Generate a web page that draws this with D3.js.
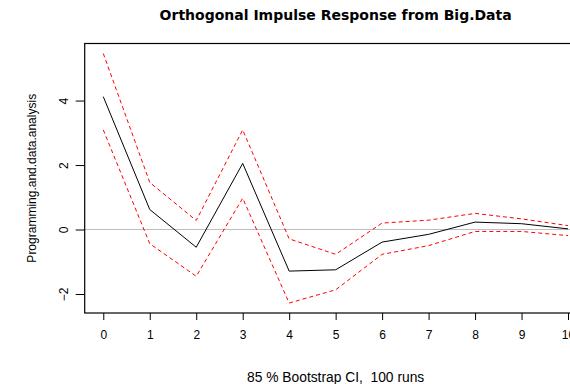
<!DOCTYPE html>
<html>
<head>
<meta charset="utf-8">
<script src="https://cdn.jsdelivr.net/npm/d3@7"></script>
<style>
  body { margin: 0; background: #fff; }
  svg { display: block; font-family: "Liberation Sans", Arial, sans-serif; }
</style>
</head>
<body>
<div id="container"></div>
<script>
/* DATA */
const horizon = [0, 1, 2, 3, 4, 5, 6, 7, 8, 9, 10];
const response = [4.12, 0.62, -0.55, 2.05, -1.29, -1.25, -0.39, -0.15, 0.23, 0.18, 0.02];
const upperCI = [5.46, 1.46, 0.28, 3.09, -0.29, -0.77, 0.2, 0.29, 0.5, 0.33, 0.12];
const lowerCI = [3.09, -0.44, -1.45, 0.97, -2.28, -1.87, -0.77, -0.5, -0.06, -0.06, -0.19];
const yTicks = [-2, 0, 2, 4];

const width = 570, height = 384;
// plot region (R style box, right edge runs off the page)
const plot = { left: 84.7, right: 586.6, top: 43.5, bottom: 313 };

const svg = d3.select("#container")
  .append("svg")
  .attr("width", width)
  .attr("height", height);

// R-like 4% extension of the data range
const allVals = response.concat(upperCI, lowerCI);
const [lo, hi] = d3.extent(allVals);
const pad = (hi - lo) * 0.04;

const xScale = d3.scaleLinear()
  .domain([-0.4, 10.4])
  .range([plot.left, plot.right]);

const yScale = d3.scaleLinear()
  .domain([lo - pad, hi + pad])
  .range([plot.bottom, plot.top]);

// zero line
svg.append("line")
  .attr("x1", plot.left).attr("x2", plot.right)
  .attr("y1", yScale(0)).attr("y2", yScale(0))
  .attr("stroke", "#bebebe")
  .attr("stroke-width", 1);

const line = d3.line()
  .x((d, i) => xScale(horizon[i]))
  .y(d => yScale(d));

// confidence bands
[upperCI, lowerCI].forEach(s => {
  svg.append("path")
    .datum(s)
    .attr("d", line)
    .attr("fill", "none")
    .attr("stroke", "#ff0000")
    .attr("stroke-width", 1)
    .attr("stroke-dasharray", "4,3");
});

// response
svg.append("path")
  .datum(response)
  .attr("d", line)
  .attr("fill", "none")
  .attr("stroke", "#000")
  .attr("stroke-width", 1);

// box
svg.append("rect")
  .attr("x", plot.left).attr("y", plot.top)
  .attr("width", plot.right - plot.left)
  .attr("height", plot.bottom - plot.top)
  .attr("fill", "none")
  .attr("stroke", "#000")
  .attr("stroke-width", 1.2);

// AXES ----------------------------------------------
const xAxis = svg.append("g")
  .attr("transform", `translate(0,${plot.bottom})`)
  .call(d3.axisBottom(xScale).tickValues(horizon).tickSize(7).tickPadding(10).tickSizeOuter(0));
xAxis.select(".domain").remove();
xAxis.selectAll("text").style("font-size", "12px").attr("fill", "#000");

const yAxis = svg.append("g")
  .attr("transform", `translate(${plot.left},0)`)
  .call(d3.axisLeft(yScale).tickValues(yTicks).tickSize(9).tickSizeOuter(0).tickFormat(d3.format("d")));
yAxis.select(".domain").remove();
yAxis.selectAll("text")
  .style("font-size", "12px")
  .attr("fill", "#000")
  .attr("text-anchor", "middle")
  .attr("dy", null)
  .attr("x", null)
  .attr("transform", "translate(-21,0) rotate(-90)")
  .attr("dominant-baseline", "central");

// TITLES ----------------------------------------------
svg.append("text")
  .attr("x", (plot.left + plot.right) / 2)
  .attr("y", 20)
  .attr("text-anchor", "middle")
  .style("font-family", "'DejaVu Sans', Verdana, sans-serif")
  .style("font-weight", "bold")
  .style("font-size", "14px")
  .text("Orthogonal Impulse Response from Big.Data");

svg.append("text")
  .attr("x", (plot.left + plot.right) / 2)
  .attr("y", 382)
  .attr("text-anchor", "middle")
  .style("font-size", "13.8px")
  .style("white-space", "pre")
  .text("85 % Bootstrap CI,  100 runs");

svg.append("text")
  .attr("transform", `translate(36,${(plot.top + plot.bottom) / 2}) rotate(-90)`)
  .attr("text-anchor", "middle")
  .style("font-size", "12px")
  .text("Programming.and.data.analysis");
</script>
</body>
</html>
